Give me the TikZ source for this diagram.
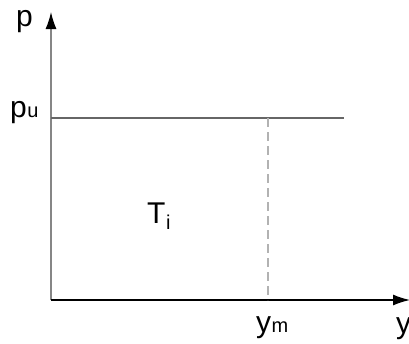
\documentclass[tikz,border=0pt]{standalone}
\usepackage{fontspec}
\setmainfont{Liberation Sans}
\usetikzlibrary{arrows.meta}
\begin{document}
\begin{tikzpicture}[x=1pt,y=-1pt,
  lbl/.style={inner sep=0pt,anchor=base west,font=\fontsize{30}{30}\selectfont},
  sub/.style={inner sep=0pt,anchor=base west,font=\fontsize{20}{20}\selectfont},
  axis/.style={line width=1.4pt},
  tip/.style={-{Latex[length=17pt,width=11pt,color=black]}}]
\useasboundingbox (0,0) rectangle (409,343);
\clip (0,0) rectangle (409,343);
\coordinate (O) at (51,300);
\coordinate (ytop) at (51,12);
\coordinate (xend) at (410,300);
\coordinate (pl) at (51,118);
\coordinate (pr) at (344,118);
\coordinate (mt) at (268,118);
\coordinate (mb) at (268,300);
\draw[axis,tip,draw=gray!95] (O) -- (ytop);
\draw[axis,tip,draw=black] (O) -- (xend);
\draw[line width=1.1pt,draw=black!60] (pl) -- (pr);
\draw[line width=1.3pt,draw=black!30,dash pattern=on 9pt off 5pt] (mt) -- (mb);
\node[lbl] (p) at (16,26) {p};
\node[lbl] (pu) at (10,117) {p};
\node[sub] (puu) at (pu.base east) {u};
\node[lbl] (T) at (147,223) {T};
\node[sub] (Ti) at (166,229) {i};
\node[lbl] (ym) at (256,332) {y};
\node[sub] (ymm) at (ym.base east) {m};
\node[lbl] (y) at (396,333) {y};
\end{tikzpicture}
\end{document}
